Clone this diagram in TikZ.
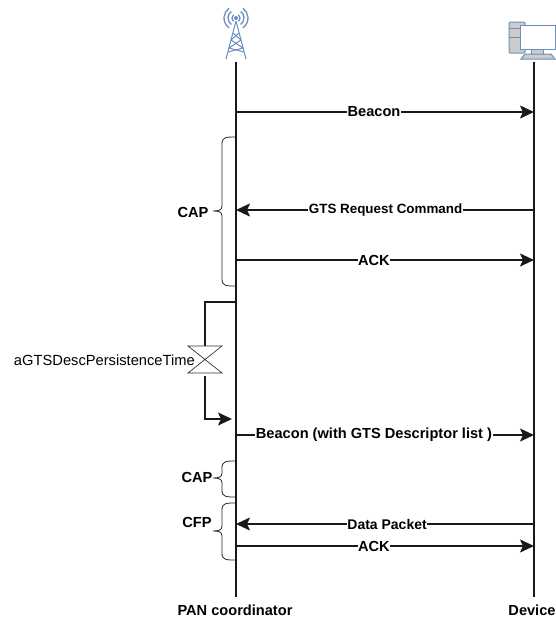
\documentclass[tikz,border=0pt]{standalone}
\usepackage{fontspec}
\setmainfont{Liberation Sans}
\usepackage{xcolor}
\usetikzlibrary{arrows.meta,positioning,calc}
\definecolor{iconblue}{HTML}{6C8EBF}
\definecolor{icongrey}{HTML}{CCCCCC}

\begin{document}
\begin{tikzpicture}[
  x=1pt, y=-1pt,
  font=\fontsize{14.7}{16}\selectfont,
  lifeline/.style={line width=2pt, draw=black!90},
  message/.style={-{Stealth[length=14pt, width=13pt, inset=3pt]}, line width=1.8pt, draw=black!90},
  msglabel/.style={fill=white, font=\fontsize{14.6}{16}\selectfont\bfseries, inner sep=0.5pt},
  toplabel/.style={font=\fontsize{14.6}{16}\selectfont\bfseries, inner sep=1pt},
  curly/.style={line width=0.8pt, draw=black!85},
  tower/.style={draw=iconblue, line width=1pt},
  wave/.style={draw=iconblue, line width=1.3pt},
  pcpart/.style={draw=iconblue, fill=icongrey, line width=1pt}
]
  \useasboundingbox (0,0) rectangle (556,619);

  % lifelines
  \coordinate (p_top) at (236,62);
  \coordinate (p_end) at (236,597);
  \coordinate (d_top) at (534,62);
  \coordinate (d_end) at (534,597);
  \draw[lifeline] (p_top) -- (p_end);
  \draw[lifeline] (d_top) -- (d_end);

  \foreach \name/\ypos in {beacona/112, gts/210, acka/260, beaconb/435, data/524, ackb/546} {
    \coordinate (p_\name) at (236,\ypos);
    \coordinate (d_\name) at (534,\ypos);
  }

  % messages
  \draw[message] (p_beacona) -- node[msglabel, pos=0.463]{Beacon} (d_beacona);
  \draw[message] (d_gts) -- node[msglabel, pos=0.498, font=\fontsize{13.4}{16}\selectfont\bfseries]{GTS Request Command} (p_gts);
  \draw[message] (p_acka) -- node[msglabel, pos=0.463]{ACK} (d_acka);
  \draw[message] (p_beaconb) -- node[msglabel, pos=0.463]{Beacon (with GTS Descriptor list )} (d_beaconb);
  \draw[message] (d_data) -- node[msglabel, pos=0.493, font=\fontsize{14}{16}\selectfont\bfseries]{Data Packet} (p_data);
  \draw[message] (p_ackb) -- node[msglabel, pos=0.463]{ACK} (d_ackb);

  % persistence timer
  \coordinate (t_start) at (236,302);
  \coordinate (t_top) at (205,346);
  \coordinate (t_bot) at (205,376);
  \coordinate (t_end) at (232,419);
  \draw[line width=1.8pt, draw=black!90] (t_start) -| (t_top);
  \draw[message] (t_bot) |- (t_end);
  \draw[line width=0.7pt, draw=black!80] (188,346) -- (222,346) -- (188,373) -- (222,373) -- cycle;
  \node[anchor=east, inner sep=0pt] (t_label) at (195,360) {aGTSDescPersistenceTime};

  % braces on the left
  \foreach \ya/\yb/\yc in {137/211/286, 461/478/497, 503/531/560} {
    \draw[curly] (236,\ya) .. controls (226,\ya) and (222,\ya) .. (222,{\ya+7})
      -- (222,{\yb-5}) .. controls (222,{\yb-1}) and (219,\yb) .. (213,\yb)
      .. controls (219,\yb) and (222,{\yb+1}) .. (222,{\yb+5})
      -- (222,{\yc-7}) .. controls (222,\yc) and (226,\yc) .. (236,\yc);
  }
  \node[toplabel] (cap_a) at (193,212) {CAP};
  \node[toplabel] (cap_b) at (197,477) {CAP};
  \node[toplabel] (cfp) at (197,522) {CFP};

  \node[toplabel] (pan) at (235,610) {PAN coordinator};
  \node[toplabel] (dev) at (532,610) {Device};

  % antenna icon
  \draw[tower] (236,21) -- (226,59) (236,21) -- (246,59);
  \draw[tower] (233,33) -- (241,40) -- (229,48) -- (244,52);
  \draw[tower] (239,33) -- (231,40) -- (243,48) -- (228,52);
  \fill[iconblue] (236,18) circle (2pt);
  \foreach \rr in {4,8,12} {
    \draw[wave] (236,18) ++(125:\rr) arc[start angle=125, end angle=235, radius=\rr];
    \draw[wave] (236,18) ++(55:\rr) arc[start angle=55, end angle=-55, radius=\rr];
  }

  % computer icon
  \draw[pcpart, rounded corners=1pt] (509,22) rectangle (525,53);
  \draw[iconblue, line width=0.6pt] (509,28) -- (525,28) (509,37) -- (525,37);
  \draw[pcpart] (531,49) rectangle (543,54);
  \draw[pcpart] (525,54) -- (551,54) -- (555,59) -- (521,59) -- cycle;
  \draw[draw=iconblue, fill=white, line width=1pt] (520,25) rectangle (555.5,49);
\end{tikzpicture}
\end{document}
